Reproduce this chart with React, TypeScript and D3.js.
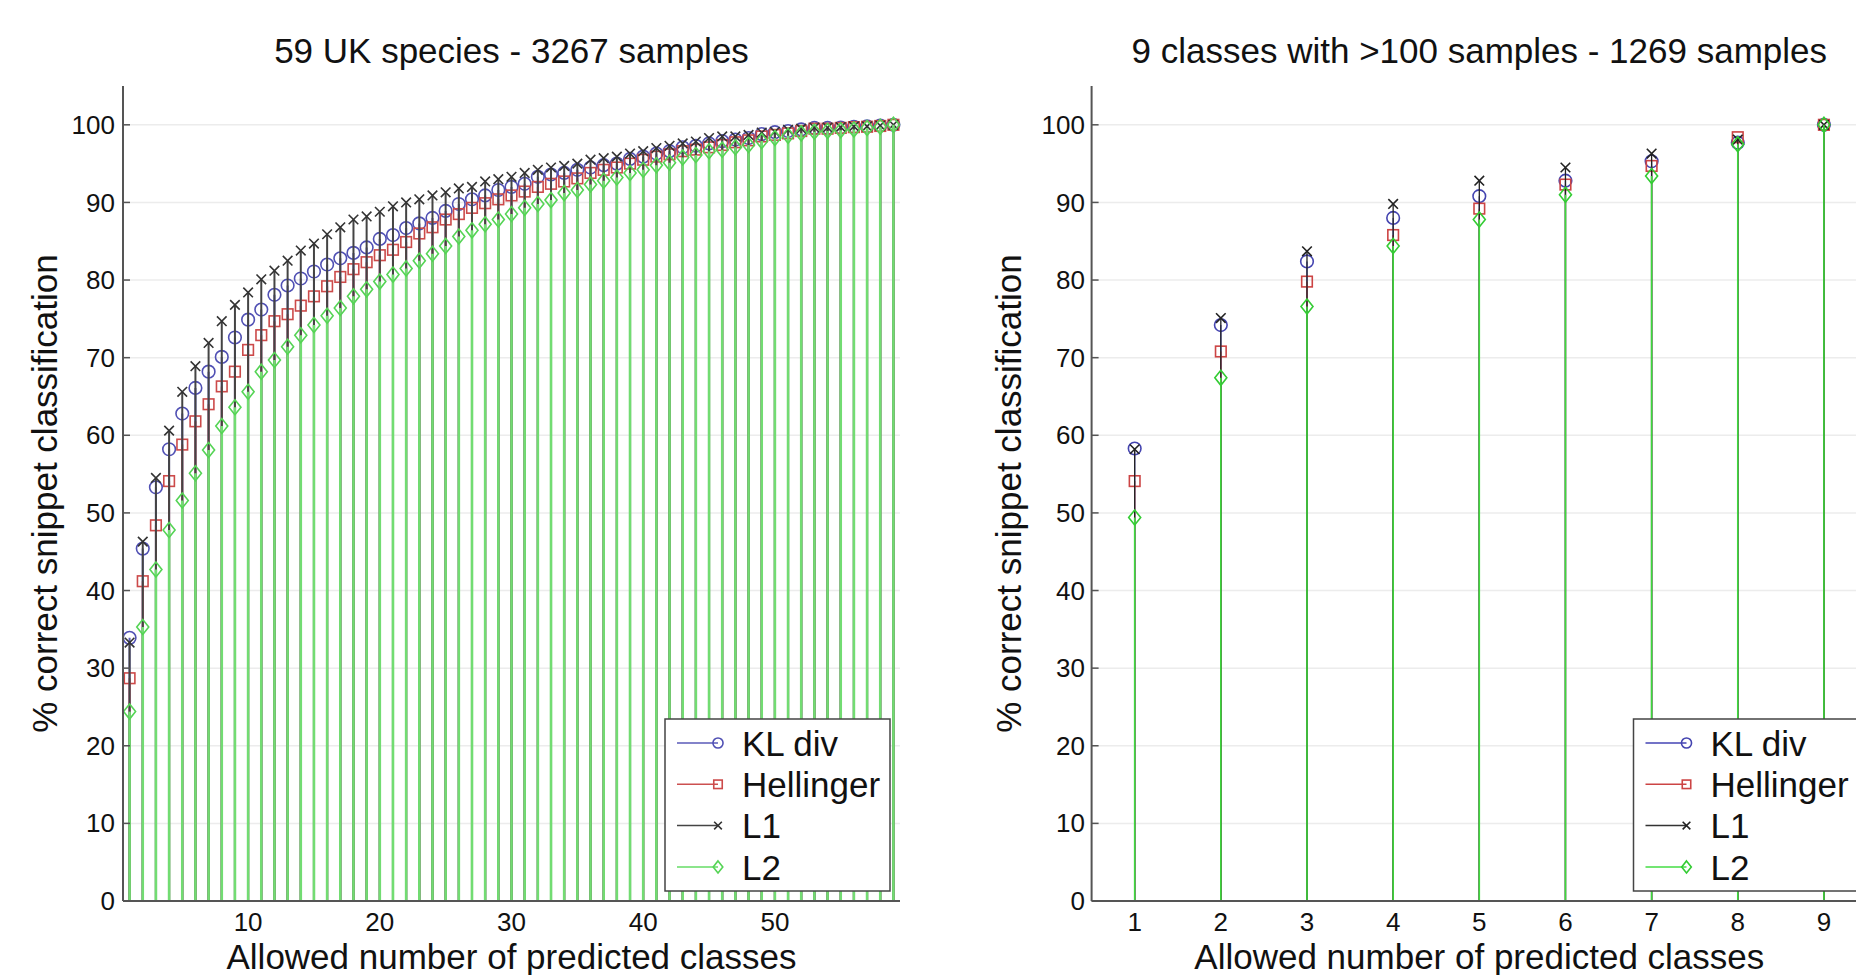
import React from 'react';
import * as d3 from 'd3';

// series names and text
const seriesNames = ['KL div', 'Hellinger', 'L1', 'L2'];
const leftTitle = '59 UK species - 3267 samples';
const rightTitle = '9 classes with >100 samples - 1269 samples';
const xLabel = 'Allowed number of predicted classes';
const yLabel = '% correct snippet classification';

const yTicks = [0, 10, 20, 30, 40, 50, 60, 70, 80, 90, 100];
const leftXTicks = [10, 20, 30, 40, 50];
const rightXTicks = [1, 2, 3, 4, 5, 6, 7, 8, 9];

// left: 59 UK species, allowed classes 1..59
const ukKL = [33.9, 45.4, 53.3, 58.2, 62.8, 66.1, 68.2, 70.1, 72.6, 74.9,
  76.2, 78.1, 79.3, 80.2, 81.1, 82.0, 82.8, 83.5, 84.2, 85.3,
  85.8, 86.7, 87.3, 88.0, 88.9, 89.8, 90.4, 90.9, 91.6, 92.0,
  92.4, 93.3, 93.6, 93.8, 94.2, 94.5, 94.8, 95.0, 95.6, 95.9,
  96.3, 96.6, 97.1, 97.3, 97.6, 97.9, 98.1, 98.3, 98.8, 99.05,
  99.2, 99.4, 99.6, 99.6, 99.65, 99.75, 99.8, 99.9, 100];
const ukHell = [28.7, 41.2, 48.4, 54.1, 58.8, 61.8, 64.0, 66.3, 68.2, 71.0,
  72.9, 74.7, 75.6, 76.7, 77.9, 79.2, 80.4, 81.4, 82.3, 83.2,
  83.9, 84.9, 86.0, 86.8, 87.8, 88.5, 89.3, 89.9, 90.4, 90.9,
  91.4, 92.0, 92.4, 92.7, 93.1, 93.8, 94.2, 94.5, 95.0, 95.5,
  95.9, 96.2, 96.6, 96.8, 97.1, 97.4, 97.75, 98.0, 98.5, 98.7,
  98.9, 99.2, 99.5, 99.5, 99.6, 99.7, 99.75, 99.85, 100];
const ukL1 = [33.3, 46.3, 54.5, 60.6, 65.6, 68.9, 71.9, 74.7, 76.8, 78.4,
  80.1, 81.2, 82.5, 83.8, 84.7, 85.9, 86.8, 87.8, 88.2, 88.8,
  89.5, 90.0, 90.4, 90.9, 91.3, 91.8, 92.0, 92.7, 93.0, 93.3,
  93.8, 94.2, 94.5, 94.7, 95.0, 95.5, 95.7, 95.9, 96.3, 96.6,
  97.0, 97.3, 97.6, 97.85, 98.3, 98.5, 98.5, 98.7, 99.0, 99.1,
  99.35, 99.5, 99.65, 99.65, 99.7, 99.8, 99.8, 99.9, 100];
const ukL2 = [24.4, 35.3, 42.7, 47.8, 51.6, 55.1, 58.1, 61.2, 63.6, 65.6,
  68.2, 69.7, 71.4, 72.9, 74.2, 75.4, 76.4, 77.9, 78.8, 79.8,
  80.7, 81.5, 82.5, 83.4, 84.4, 85.6, 86.4, 87.2, 87.8, 88.5,
  89.3, 89.8, 90.3, 91.2, 91.6, 92.3, 92.8, 93.2, 93.8, 94.2,
  94.8, 95.1, 95.8, 96.1, 96.6, 96.8, 97.1, 97.4, 97.9, 98.3,
  98.6, 98.9, 99.1, 99.2, 99.3, 99.4, 99.6, 99.75, 100];

// right: 9 classes with >100 samples
const bigKL = [58.3, 74.2, 82.4, 88.0, 90.8, 92.8, 95.3, 97.7, 100];
const bigHell = [54.1, 70.8, 79.8, 85.8, 89.2, 92.3, 94.7, 98.4, 100];
const bigL1 = [58.2, 75.1, 83.7, 89.8, 92.8, 94.5, 96.3, 98.1, 100];
const bigL2 = [49.4, 67.4, 76.6, 84.4, 87.8, 91.0, 93.4, 97.5, 100];

const font = '"Liberation Sans", Arial, Helvetica, sans-serif';
const markerKinds = ['circle', 'square', 'x', 'diamond'];

function Marker({ kind, x, y, color, s = 1 }) {
  const sw = 1.6;
  if (kind === 'circle') return <circle cx={x} cy={y} r={6.3 * s} fill="none" stroke={color} strokeWidth={sw} />;
  if (kind === 'square') {
    const h = 5.3 * s;
    return <rect x={x - h} y={y - h} width={2 * h} height={2 * h} fill="none" stroke={color} strokeWidth={sw} />;
  }
  if (kind === 'diamond') {
    const w = 6 * s, h = 7.5 * s;
    return <path d={`M${x},${y - h}L${x + w},${y}L${x},${y + h}L${x - w},${y}Z`} fill="none" stroke={color} strokeWidth={sw} />;
  }
  const h = 4.8 * s;
  return <path d={`M${x - h},${y - h}L${x + h},${y + h}M${x - h},${y + h}L${x + h},${y - h}`} stroke={color} strokeWidth={sw} />;
}

function Panel({ left, right, domain, series, colors, stemWidths, title, xTicks, yLabelX, yTickX, legendX }) {
  const x = d3.scaleLinear().domain(domain).range([left, right]);
  const y = d3.scaleLinear().domain([0, 105]).range([901, 86]);
  const mid = (left + right) / 2;
  return (
    <g>
      {yTicks.slice(1).map(t => (
        <line key={'g' + t} x1={left} x2={right} y1={y(t)} y2={y(t)} stroke="#ececec" strokeWidth={1.5} />
      ))}
      {series.map((vals, si) => (
        <g key={si}>
          {vals.map((v, i) => (
            <line key={i} x1={x(i + 1)} x2={x(i + 1)} y1={y(0)} y2={y(v)} stroke={colors.stem[si]} strokeWidth={stemWidths[si]} />
          ))}
          {vals.map((v, i) => (
            <Marker key={'m' + i} kind={markerKinds[si]} x={x(i + 1)} y={y(v)} color={colors.mark[si]} />
          ))}
        </g>
      ))}
      {/* axes */}
      <line x1={left} x2={left} y1={y(105)} y2={y(0)} stroke="#555" strokeWidth={2} />
      <line x1={left} x2={right} y1={y(0)} y2={y(0)} stroke="#555" strokeWidth={2} />
      {yTicks.map(t => (
        <g key={'yt' + t}>
          <line x1={left} x2={left + 7} y1={y(t)} y2={y(t)} stroke="#555" strokeWidth={1.5} />
          <text x={yTickX} y={y(t)} dy="0.35em" textAnchor="end" fontSize={26} fontFamily={font} fill="#111">{t}</text>
        </g>
      ))}
      {xTicks.map(t => (
        <text key={'xt' + t} x={x(t)} y={931} textAnchor="middle" fontSize={26} fontFamily={font} fill="#111">{t}</text>
      ))}
      <text x={mid} y={63} textAnchor="middle" fontSize={35} fontFamily={font} fill="#111">{title}</text>
      <text x={mid} y={969} textAnchor="middle" fontSize={35} fontFamily={font} fill="#111">{xLabel}</text>
      <text transform={`translate(${yLabelX},${(y(0) + y(105)) / 2}) rotate(-90)`} textAnchor="middle" fontSize={35} fontFamily={font} fill="#111">{yLabel}</text>
      {/* legend */}
      <g transform={`translate(${legendX},719)`}>
        <rect x={0} y={0} width={225} height={172} fill="#fff" stroke="#444" strokeWidth={1.5} />
        {seriesNames.map((n, si) => {
          const ly = 24 + si * 41.3;
          return (
            <g key={n}>
              <line x1={12} x2={53} y1={ly} y2={ly} stroke={colors.legend[si]} strokeWidth={1.5} />
              <Marker kind={markerKinds[si]} x={53} y={ly} color={colors.mark[si]} s={0.8} />
              <text x={77} y={ly} dy="0.36em" fontSize={35} fontFamily={font} fill="#111">{n}</text>
            </g>
          );
        })}
      </g>
    </g>
  );
}

export default function App() {
  const leftColors = {
    stem: ['#5a5ab8', '#cc5050', '#444', '#72dc72'],
    mark: ['#5050b4', '#cc4a4a', '#333', '#55d455'],
    legend: ['#5a5ab8', '#cc5050', '#444', '#66dd66'],
  };
  const rightColors = {
    stem: ['#4444b4', '#cc4444', '#222', '#3cdc3c'],
    mark: ['#4444b0', '#cc4444', '#222', '#33cc33'],
    legend: ['#4444b4', '#cc4444', '#333', '#44dd44'],
  };
  return (
    <svg width={1856} height={975} style={{ position: 'absolute', left: 0, top: 0, display: 'block' }}>
      <rect width={1856} height={975} fill="#fff" />
      <Panel
        left={123} right={900} domain={[0.5, 59.5]}
        series={[ukKL, ukHell, ukL1, ukL2]}
        colors={leftColors} stemWidths={[2, 2, 2, 2.6]}
        title={leftTitle} xTicks={leftXTicks}
        yLabelX={57} yTickX={115} legendX={665}
      />
      <Panel
        left={1091.6} right={1867} domain={[0.5, 9.5]}
        series={[bigKL, bigHell, bigL1, bigL2]}
        colors={rightColors} stemWidths={[1.3, 1.3, 1.3, 1.6]}
        title={rightTitle} xTicks={rightXTicks}
        yLabelX={1021} yTickX={1085} legendX={1633.5}
      />
    </svg>
  );
}
